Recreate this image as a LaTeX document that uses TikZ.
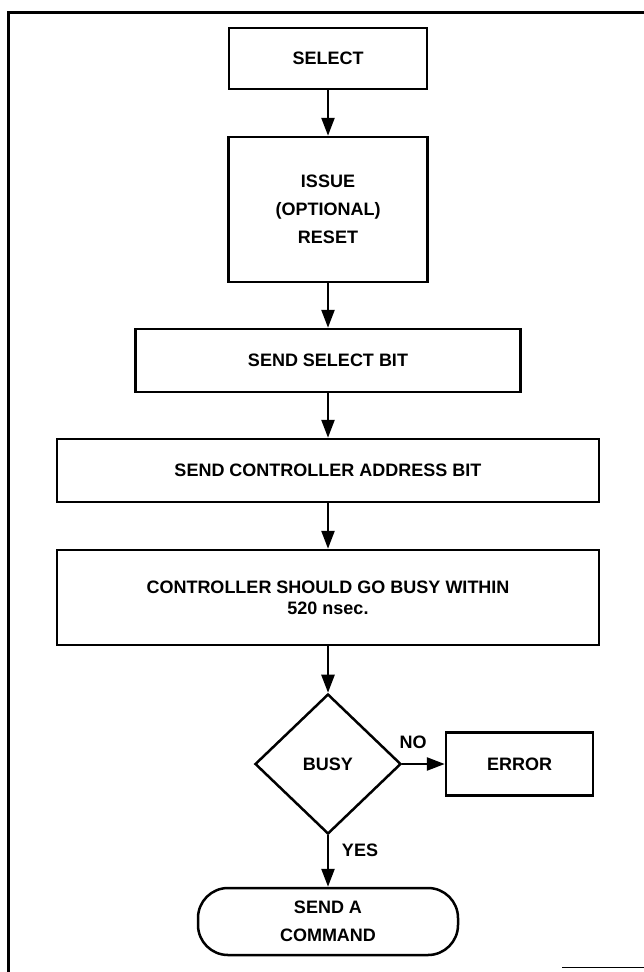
\documentclass[tikz,border=0pt]{standalone}
\usepackage{fontspec}
\setmainfont{Liberation Sans}
\usetikzlibrary{arrows.meta,shapes.geometric}

\tikzset{
	box/.style={draw, line width=2.5pt, inner sep=0pt, align=center, font=\fontsize{18}{28}\selectfont\bfseries},
	flow/.style={line width=2.5pt, -{Triangle[length=18pt,width=13pt]}},
	lbl/.style={inner sep=0pt, font=\fontsize{18}{22}\selectfont\bfseries},
}

\begin{document}
\begin{tikzpicture}[x=1pt,y=-1pt]
			\useasboundingbox (0,0) rectangle (644,972);
			\def\cx{328};
			% frame
			\draw[line width=3pt] (660,12) -- (8,12) -- (8,990);
			\draw[line width=1pt] (562,967) -- (660,967);
			
			\node[box, minimum width=198pt, minimum height=61pt] (select) at (\cx,58.5) {SELECT};
			\node[box, minimum width=199pt, minimum height=145pt] (reset) at (\cx,209.5) {ISSUE\\(OPTIONAL)\\RESET};
			\node[box, minimum width=385pt, minimum height=63pt] (selbit) at (\cx,360.5) {SEND SELECT BIT};
			\node[box, minimum width=542pt, minimum height=63pt] (addrbit) at (\cx,470.5) {SEND CONTROLLER ADDRESS BIT};
			\node[box, minimum width=542pt, minimum height=95pt, font=\fontsize{18}{21}\selectfont\bfseries] (busywait) at (\cx,597.5) {CONTROLLER SHOULD GO BUSY WITHIN\\520 nsec.};
			
			\node[box, diamond, minimum width=146pt, minimum height=140pt] (busy) at (\cx,764) {BUSY};
			\node[box, minimum width=147pt, minimum height=63pt] (error) at (519.5,764) {ERROR};
			\node[box, minimum width=260pt, minimum height=67pt, rounded corners=30pt] (command) at (\cx,921.5) {SEND A\\COMMAND};
			
			\node[lbl] (nolbl) at (413,742) {NO};
			\node[lbl] (yeslbl) at (360,850) {YES};
			
			\draw[flow] (select) -- (reset);
			\draw[flow] (reset) -- (selbit);
			\draw[flow] (selbit) -- (addrbit);
			\draw[flow] (addrbit) -- (busywait);
			\draw[flow] (busywait) -- (busy);
			\draw[flow] (busy.east) -- (error.west);
			\draw[flow] (busy.south) -- (command);
			\end{tikzpicture}
\end{document}
